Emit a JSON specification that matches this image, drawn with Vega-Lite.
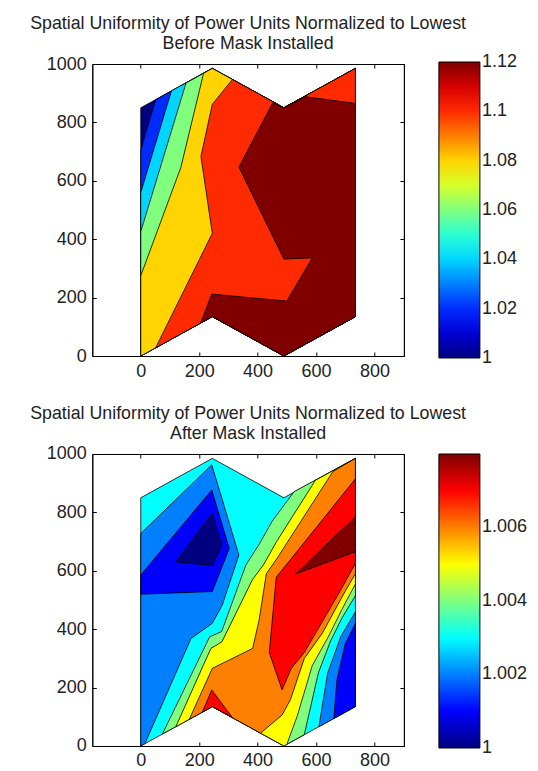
{
  "$schema": "https://vega.github.io/schema/vega-lite/v6.json",
  "padding": {"left": 29.3, "top": 14, "right": 5, "bottom": 5},
  "spacing": 23,
  "config": {
    "font": "Liberation Sans",
    "view": {"stroke": "black", "strokeWidth": 1},
    "axis": {"grid": false, "labelFontSize": 18, "labelColor": "#222", "domainColor": "black", "tickColor": "black", "tickSize": -4, "labelPadding": 10, "title": null},
    "title": {"fontSize": 17.8, "fontWeight": "normal", "color": "#222", "lineHeight": 20.5, "anchor": "middle", "frame": "group", "offset": 2}
  },
  "datasets": {
    "top": [
      {"p":"a0","lv":1.00,"i":0,"x":0,"y":0},{"p":"a0","lv":1.00,"i":1,"x":0,"y":850},{"p":"a0","lv":1.00,"i":2,"x":245,"y":985},{"p":"a0","lv":1.00,"i":3,"x":490,"y":850},{"p":"a0","lv":1.00,"i":4,"x":735,"y":985},{"p":"a0","lv":1.00,"i":5,"x":735,"y":135},{"p":"a0","lv":1.00,"i":6,"x":490,"y":0},{"p":"a0","lv":1.00,"i":7,"x":245,"y":135},
      {"p":"a1","lv":1.02,"i":0,"x":0,"y":0},{"p":"a1","lv":1.02,"i":1,"x":0,"y":705},{"p":"a1","lv":1.02,"i":2,"x":51,"y":878},{"p":"a1","lv":1.02,"i":3,"x":245,"y":985},{"p":"a1","lv":1.02,"i":4,"x":490,"y":850},{"p":"a1","lv":1.02,"i":5,"x":735,"y":985},{"p":"a1","lv":1.02,"i":6,"x":735,"y":135},{"p":"a1","lv":1.02,"i":7,"x":490,"y":0},{"p":"a1","lv":1.02,"i":8,"x":245,"y":135},
      {"p":"a2","lv":1.04,"i":0,"x":0,"y":0},{"p":"a2","lv":1.04,"i":1,"x":0,"y":560},{"p":"a2","lv":1.04,"i":2,"x":105,"y":908},{"p":"a2","lv":1.04,"i":3,"x":245,"y":985},{"p":"a2","lv":1.04,"i":4,"x":490,"y":850},{"p":"a2","lv":1.04,"i":5,"x":735,"y":985},{"p":"a2","lv":1.04,"i":6,"x":735,"y":135},{"p":"a2","lv":1.04,"i":7,"x":490,"y":0},{"p":"a2","lv":1.04,"i":8,"x":245,"y":135},
      {"p":"a3","lv":1.06,"i":0,"x":0,"y":0},{"p":"a3","lv":1.06,"i":1,"x":0,"y":426},{"p":"a3","lv":1.06,"i":2,"x":155,"y":935},{"p":"a3","lv":1.06,"i":3,"x":245,"y":985},{"p":"a3","lv":1.06,"i":4,"x":490,"y":850},{"p":"a3","lv":1.06,"i":5,"x":735,"y":985},{"p":"a3","lv":1.06,"i":6,"x":735,"y":135},{"p":"a3","lv":1.06,"i":7,"x":490,"y":0},{"p":"a3","lv":1.06,"i":8,"x":245,"y":135},
      {"p":"a4","lv":1.08,"i":0,"x":0,"y":0},{"p":"a4","lv":1.08,"i":1,"x":0,"y":275},{"p":"a4","lv":1.08,"i":2,"x":137,"y":645},{"p":"a4","lv":1.08,"i":3,"x":215,"y":968},{"p":"a4","lv":1.08,"i":4,"x":245,"y":985},{"p":"a4","lv":1.08,"i":5,"x":490,"y":850},{"p":"a4","lv":1.08,"i":6,"x":735,"y":985},{"p":"a4","lv":1.08,"i":7,"x":735,"y":135},{"p":"a4","lv":1.08,"i":8,"x":490,"y":0},{"p":"a4","lv":1.08,"i":9,"x":245,"y":135},
      {"p":"a5","lv":1.10,"i":0,"x":51,"y":28},{"p":"a5","lv":1.10,"i":1,"x":245,"y":420},{"p":"a5","lv":1.10,"i":2,"x":206,"y":683},{"p":"a5","lv":1.10,"i":3,"x":245,"y":862},{"p":"a5","lv":1.10,"i":4,"x":314,"y":947},{"p":"a5","lv":1.10,"i":5,"x":490,"y":850},{"p":"a5","lv":1.10,"i":6,"x":735,"y":985},{"p":"a5","lv":1.10,"i":7,"x":735,"y":135},{"p":"a5","lv":1.10,"i":8,"x":490,"y":0},{"p":"a5","lv":1.10,"i":9,"x":245,"y":135},
      {"p":"a6","lv":1.12,"i":0,"x":205,"y":113},{"p":"a6","lv":1.12,"i":1,"x":243,"y":212},{"p":"a6","lv":1.12,"i":2,"x":500,"y":188},{"p":"a6","lv":1.12,"i":3,"x":587,"y":336},{"p":"a6","lv":1.12,"i":4,"x":490,"y":332},{"p":"a6","lv":1.12,"i":5,"x":336,"y":647},{"p":"a6","lv":1.12,"i":6,"x":452,"y":867},{"p":"a6","lv":1.12,"i":7,"x":490,"y":850},{"p":"a6","lv":1.12,"i":8,"x":564,"y":888},{"p":"a6","lv":1.12,"i":9,"x":735,"y":865},{"p":"a6","lv":1.12,"i":10,"x":735,"y":135},{"p":"a6","lv":1.12,"i":11,"x":490,"y":0},{"p":"a6","lv":1.12,"i":12,"x":245,"y":135}
    ],
    "bot": [
      {"p":"b00","lv":1.003,"i":0,"x":0,"y":0},{"p":"b00","lv":1.003,"i":1,"x":0,"y":850},{"p":"b00","lv":1.003,"i":2,"x":245,"y":985},{"p":"b00","lv":1.003,"i":3,"x":490,"y":850},{"p":"b00","lv":1.003,"i":4,"x":735,"y":985},{"p":"b00","lv":1.003,"i":5,"x":735,"y":135},{"p":"b00","lv":1.003,"i":6,"x":490,"y":0},{"p":"b00","lv":1.003,"i":7,"x":245,"y":135},
      {"p":"b01","lv":1.002,"i":0,"x":0,"y":0},{"p":"b01","lv":1.002,"i":1,"x":0,"y":728},{"p":"b01","lv":1.002,"i":2,"x":243,"y":963},{"p":"b01","lv":1.002,"i":3,"x":336,"y":654},{"p":"b01","lv":1.002,"i":4,"x":279,"y":483},{"p":"b01","lv":1.002,"i":5,"x":245,"y":420},{"p":"b01","lv":1.002,"i":6,"x":172,"y":368},{"p":"b01","lv":1.002,"i":7,"x":14,"y":8},
      {"p":"b02","lv":1.001,"i":0,"x":0,"y":520},{"p":"b02","lv":1.001,"i":1,"x":0,"y":586},{"p":"b02","lv":1.001,"i":2,"x":243,"y":877},{"p":"b02","lv":1.001,"i":3,"x":303,"y":677},{"p":"b02","lv":1.001,"i":4,"x":245,"y":529},
      {"p":"b03","lv":1.000,"i":0,"x":120,"y":631},{"p":"b03","lv":1.000,"i":1,"x":245,"y":797},{"p":"b03","lv":1.000,"i":2,"x":277,"y":688},{"p":"b03","lv":1.000,"i":3,"x":245,"y":618},
      {"p":"b04","lv":1.002,"i":0,"x":610,"y":66},{"p":"b04","lv":1.002,"i":1,"x":640,"y":250},{"p":"b04","lv":1.002,"i":2,"x":685,"y":375},{"p":"b04","lv":1.002,"i":3,"x":735,"y":460},{"p":"b04","lv":1.002,"i":4,"x":735,"y":135},
      {"p":"b05","lv":1.001,"i":0,"x":661,"y":94},{"p":"b05","lv":1.001,"i":1,"x":672,"y":230},{"p":"b05","lv":1.001,"i":2,"x":700,"y":350},{"p":"b05","lv":1.001,"i":3,"x":735,"y":420},{"p":"b05","lv":1.001,"i":4,"x":735,"y":135},
      {"p":"b06","lv":1.004,"i":0,"x":74,"y":41},{"p":"b06","lv":1.004,"i":1,"x":236,"y":374},{"p":"b06","lv":1.004,"i":2,"x":277,"y":392},{"p":"b06","lv":1.004,"i":3,"x":360,"y":620},{"p":"b06","lv":1.004,"i":4,"x":405,"y":690},{"p":"b06","lv":1.004,"i":5,"x":450,"y":770},{"p":"b06","lv":1.004,"i":6,"x":525,"y":871},{"p":"b06","lv":1.004,"i":7,"x":735,"y":985},{"p":"b06","lv":1.004,"i":8,"x":735,"y":515},{"p":"b06","lv":1.004,"i":9,"x":690,"y":440},{"p":"b06","lv":1.004,"i":10,"x":650,"y":360},{"p":"b06","lv":1.004,"i":11,"x":608,"y":250},{"p":"b06","lv":1.004,"i":12,"x":560,"y":39},{"p":"b06","lv":1.004,"i":13,"x":490,"y":0},{"p":"b06","lv":1.004,"i":14,"x":245,"y":135},
      {"p":"b07","lv":1.005,"i":0,"x":120,"y":66},{"p":"b07","lv":1.005,"i":1,"x":240,"y":334},{"p":"b07","lv":1.005,"i":2,"x":278,"y":357},{"p":"b07","lv":1.005,"i":3,"x":382,"y":569},{"p":"b07","lv":1.005,"i":4,"x":420,"y":620},{"p":"b07","lv":1.005,"i":5,"x":465,"y":700},{"p":"b07","lv":1.005,"i":6,"x":598,"y":910},{"p":"b07","lv":1.005,"i":7,"x":735,"y":985},{"p":"b07","lv":1.005,"i":8,"x":735,"y":555},{"p":"b07","lv":1.005,"i":9,"x":690,"y":470},{"p":"b07","lv":1.005,"i":10,"x":640,"y":370},{"p":"b07","lv":1.005,"i":11,"x":587,"y":275},{"p":"b07","lv":1.005,"i":12,"x":535,"y":100},{"p":"b07","lv":1.005,"i":13,"x":500,"y":5},{"p":"b07","lv":1.005,"i":14,"x":490,"y":0},{"p":"b07","lv":1.005,"i":15,"x":245,"y":135},
      {"p":"b08","lv":1.006,"i":0,"x":166,"y":91},{"p":"b08","lv":1.006,"i":1,"x":245,"y":266},{"p":"b08","lv":1.006,"i":2,"x":383,"y":334},{"p":"b08","lv":1.006,"i":3,"x":405,"y":430},{"p":"b08","lv":1.006,"i":4,"x":430,"y":590},{"p":"b08","lv":1.006,"i":5,"x":465,"y":640},{"p":"b08","lv":1.006,"i":6,"x":658,"y":940},{"p":"b08","lv":1.006,"i":7,"x":735,"y":985},{"p":"b08","lv":1.006,"i":8,"x":735,"y":590},{"p":"b08","lv":1.006,"i":9,"x":700,"y":530},{"p":"b08","lv":1.006,"i":10,"x":621,"y":385},{"p":"b08","lv":1.006,"i":11,"x":560,"y":300},{"p":"b08","lv":1.006,"i":12,"x":513,"y":160},{"p":"b08","lv":1.006,"i":13,"x":484,"y":106},{"p":"b08","lv":1.006,"i":14,"x":410,"y":44},{"p":"b08","lv":1.006,"i":15,"x":245,"y":135},
      {"p":"b09","lv":1.007,"i":0,"x":735,"y":915},{"p":"b09","lv":1.007,"i":1,"x":464,"y":578},{"p":"b09","lv":1.007,"i":2,"x":440,"y":320},{"p":"b09","lv":1.007,"i":3,"x":484,"y":192},{"p":"b09","lv":1.007,"i":4,"x":515,"y":265},{"p":"b09","lv":1.007,"i":5,"x":560,"y":320},{"p":"b09","lv":1.007,"i":6,"x":684,"y":533},{"p":"b09","lv":1.007,"i":7,"x":735,"y":625},
      {"p":"b10","lv":1.007,"i":0,"x":211,"y":116},{"p":"b10","lv":1.007,"i":1,"x":243,"y":192},{"p":"b10","lv":1.007,"i":2,"x":314,"y":97},{"p":"b10","lv":1.007,"i":3,"x":245,"y":135},
      {"p":"b11","lv":1.008,"i":0,"x":530,"y":589},{"p":"b11","lv":1.008,"i":1,"x":735,"y":785},{"p":"b11","lv":1.008,"i":2,"x":735,"y":665}
    ]
  },
  "resolve": {"scale": {"fill": "independent"}},
  "vconcat": [
    {
      "title": {"text": ["Spatial Uniformity of Power Units Normalized to Lowest", "Before Mask Installed"]},
      "width": 311.6,
      "height": 292,
      "data": {"name": "top"},
      "resolve": {"axis": {"x": "independent", "y": "independent"}},
      "layer": [
        {
          "mark": {"type": "line", "interpolate": "linear-closed", "stroke": "black", "strokeWidth": 0.8, "strokeJoin": "round"},
          "encoding": {
            "x": {"field": "x", "type": "quantitative", "scale": {"domain": [-166, 901], "nice": false, "zero": false}, "axis": {"orient": "bottom", "values": [0, 200, 400, 600, 800], "format": "d"}},
            "y": {"field": "y", "type": "quantitative", "scale": {"domain": [0, 1000], "nice": false, "zero": false}, "axis": {"orient": "left", "values": [0, 200, 400, 600, 800, 1000], "format": "d"}},
            "detail": {"field": "p"},
            "order": {"field": "i", "type": "quantitative"},
            "fill": {
              "field": "lv", "type": "quantitative",
              "scale": {"domain": [1, 1.015, 1.045, 1.075, 1.105, 1.12], "range": ["#000080", "#0000ff", "#00ffff", "#ffff00", "#ff0000", "#800000"], "interpolate": "rgb"},
              "legend": {"type": "gradient", "orient": "none", "legendX": 346.6, "legendY": -2, "direction": "vertical", "gradientLength": 296, "gradientThickness": 41, "gradientStrokeColor": "black", "gradientStrokeWidth": 1, "values": [1, 1.02, 1.04, 1.06, 1.08, 1.1, 1.12], "format": "~g", "labelFontSize": 18, "labelColor": "#222", "labelOffset": 2, "labelOverlap": false, "title": null, "encode": {"labels": {"update": {"baseline": {"value": "middle"}}}}}
            }
          }
        },
        {
          "mark": {"type": "point", "opacity": 0},
          "encoding": {
            "x": {"field": "x", "type": "quantitative", "scale": {"domain": [-166, 901], "nice": false, "zero": false}, "axis": {"orient": "top", "values": [0, 200, 400, 600, 800], "labels": false}},
            "y": {"field": "y", "type": "quantitative", "scale": {"domain": [0, 1000], "nice": false, "zero": false}, "axis": {"orient": "right", "values": [0, 200, 400, 600, 800, 1000], "labels": false}}
          }
        }
      ]
    },
    {
      "title": {"text": ["Spatial Uniformity of Power Units Normalized to Lowest", "After Mask Installed"]},
      "width": 311.6,
      "height": 292,
      "data": {"name": "bot"},
      "resolve": {"axis": {"x": "independent", "y": "independent"}},
      "layer": [
        {
          "mark": {"type": "line", "interpolate": "linear-closed", "stroke": "black", "strokeWidth": 0.8, "strokeJoin": "round"},
          "encoding": {
            "x": {"field": "x", "type": "quantitative", "scale": {"domain": [-166, 901], "nice": false, "zero": false}, "axis": {"orient": "bottom", "values": [0, 200, 400, 600, 800], "format": "d"}},
            "y": {"field": "y", "type": "quantitative", "scale": {"domain": [0, 1000], "nice": false, "zero": false}, "axis": {"orient": "left", "values": [0, 200, 400, 600, 800, 1000], "format": "d"}},
            "detail": {"field": "p"},
            "order": {"field": "i", "type": "quantitative"},
            "fill": {
              "field": "lv", "type": "quantitative",
              "scale": {"domain": [1, 1.001, 1.003, 1.005, 1.007, 1.008], "range": ["#000080", "#0000ff", "#00ffff", "#ffff00", "#ff0000", "#800000"], "interpolate": "rgb"},
              "legend": {"type": "gradient", "orient": "none", "legendX": 346.6, "legendY": 0, "direction": "vertical", "gradientLength": 294, "gradientThickness": 41, "gradientStrokeColor": "black", "gradientStrokeWidth": 1, "values": [1, 1.002, 1.004, 1.006], "format": "~g", "labelFontSize": 18, "labelColor": "#222", "labelOffset": 2, "labelOverlap": false, "title": null, "encode": {"labels": {"update": {"baseline": {"value": "middle"}}}}}
            }
          }
        },
        {
          "mark": {"type": "point", "opacity": 0},
          "encoding": {
            "x": {"field": "x", "type": "quantitative", "scale": {"domain": [-166, 901], "nice": false, "zero": false}, "axis": {"orient": "top", "values": [0, 200, 400, 600, 800], "labels": false}},
            "y": {"field": "y", "type": "quantitative", "scale": {"domain": [0, 1000], "nice": false, "zero": false}, "axis": {"orient": "right", "values": [0, 200, 400, 600, 800, 1000], "labels": false}}
          }
        }
      ]
    }
  ]
}
